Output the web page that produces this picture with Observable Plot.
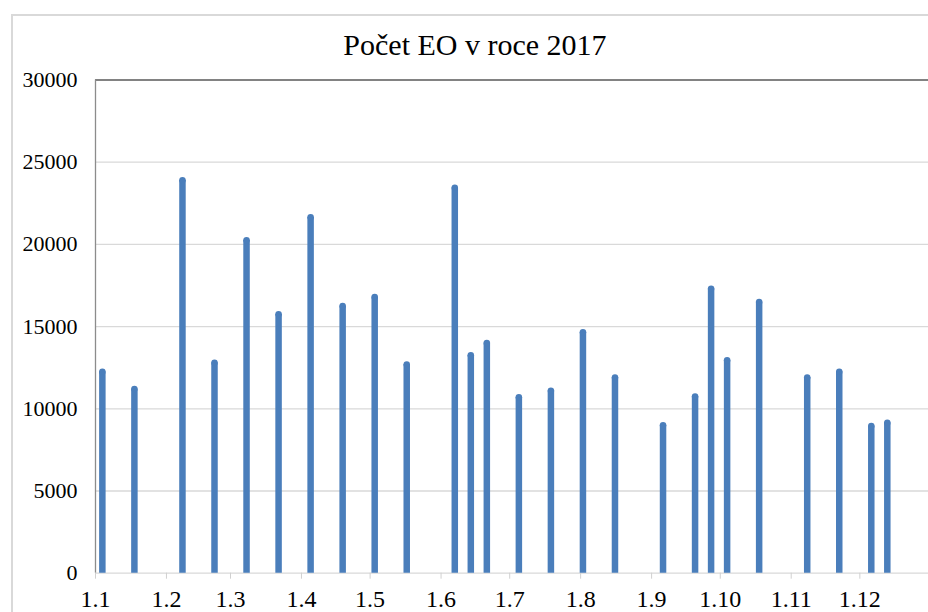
<!DOCTYPE html>
<html>
<head>
<meta charset="utf-8">
<script src="https://cdn.jsdelivr.net/npm/d3@7"></script>
<script src="https://cdn.jsdelivr.net/npm/@observablehq/plot@0.6"></script>
<style>
  html, body { margin: 0; padding: 0; background: #fff; }
  body { width: 928px; height: 612px; overflow: hidden; position: relative; }
  #frame { position: absolute; left: 11px; top: 14px; width: 1000px; height: 1000px; border: 2px solid #d9d9d9; box-sizing: border-box; }
  #title { position: relative; box-sizing: border-box; width: 928px; height: 62px; padding-top: 30px; padding-left: 22px; text-align: center; line-height: 30px; color: #000; }
  #chart { position: relative; }
</style>
</head>
<body>
<div id="frame"></div>
<div id="title">Počet EO v roce 2017</div>
<div id="chart"></div>
<script>
// Dates of the readings (2017) and the number of EO
const dates = [
  "2017-01-04", "2017-01-18", "2017-02-08", "2017-02-22", "2017-03-08", "2017-03-22",
  "2017-04-05", "2017-04-19", "2017-05-03", "2017-05-17", "2017-06-07", "2017-06-14",
  "2017-06-21", "2017-07-05", "2017-07-19", "2017-08-02", "2017-08-16", "2017-09-06",
  "2017-09-20", "2017-09-27", "2017-10-04", "2017-10-18", "2017-11-08", "2017-11-22",
  "2017-12-06", "2017-12-13"
];
const values = [
  12250, 11200, 23900, 12800, 20250, 15750,
  21650, 16250, 16800, 12700, 23450, 13250,
  14000, 10700, 11100, 14650, 11900, 9000,
  10750, 17300, 12950, 16500, 11900, 12250,
  8950, 9150
];
// Axis ticks
const monthTicks = [
  "2017-01-01", "2017-02-01", "2017-03-01", "2017-04-01", "2017-05-01", "2017-06-01",
  "2017-07-01", "2017-08-01", "2017-09-01", "2017-10-01", "2017-11-01", "2017-12-01"
];
const tickLabels = ["1.1", "1.2", "1.3", "1.4", "1.5", "1.6", "1.7", "1.8", "1.9", "1.10", "1.11", "1.12"];
const yTicks = [0, 5000, 10000, 15000, 20000, 25000, 30000];

// Pick an installed serif face (Times-like) and size the texts for it
function hasFont(name) {
  const ctx = document.createElement("canvas").getContext("2d");
  const s = "Počet EO 30000 1.12 mmwwii";
  ctx.font = "40px monospace";
  const w0 = ctx.measureText(s).width;
  ctx.font = `40px "${name}", monospace`;
  const w1 = ctx.measureText(s).width;
  ctx.font = "40px sans-serif";
  const w2 = ctx.measureText(s).width;
  ctx.font = `40px "${name}", sans-serif`;
  const w3 = ctx.measureText(s).width;
  return w0 !== w1 || w2 !== w3;
}
let family = "'Liberation Serif', 'Times New Roman', serif", k = 1;
if (hasFont("Liberation Serif")) { family = "'Liberation Serif'"; k = 1; }
else if (hasFont("Tinos")) { family = "Tinos"; k = 1; }
else if (hasFont("DejaVu Serif Condensed")) { family = "'DejaVu Serif Condensed'"; k = 0.88; }
else if (hasFont("DejaVu Serif")) { family = "'DejaVu Serif'"; k = 0.84; }

const title = document.getElementById("title");
title.style.fontFamily = family;
title.style.fontSize = (30 * k) + "px";

const parse = s => new Date(s + "T00:00:00Z");
const data = dates.map((d, i) => ({date: parse(d), value: values[i]}));
const xTicks = monthTicks.map(parse);
const labelMap = new Map(xTicks.map((d, i) => [+d, tickLabels[i]]));
const xStart = parse("2017-01-01");
const xEnd = parse("2017-12-31");

const chart = Plot.plot({
  width: 928,
  height: 550,
  marginTop: 17.5,
  marginBottom: 39.3,
  marginLeft: 95,
  marginRight: 0,
  style: {background: "transparent", fontFamily: family, color: "#000", overflow: "visible"},
  x: {type: "utc", domain: [xStart, xEnd], label: null},
  y: {domain: [0, 30000], label: null},
  marks: [
    Plot.ruleY(yTicks.filter(v => v > 0 && v < 30000), {stroke: "#d9d9d9", strokeWidth: 1.3}),
    Plot.ruleY([0], {stroke: "#d9d9d9", strokeWidth: 1.3}),
    Plot.ruleY([30000], {stroke: "#595959", strokeWidth: 1.5}),
    Plot.ruleX([xStart], {stroke: "#8c8c8c", strokeWidth: 1.3}),
    Plot.axisY({ticks: yTicks, tickSize: 0, tickPadding: 18, tickFormat: d3.format("d"), fontSize: 22 * k, label: null, fill: "#000"}),
    Plot.axisX({ticks: xTicks, tickFormat: d => labelMap.get(+d), tickSize: 6, tickPadding: 11, stroke: "#d0d0d0", fill: "#000", fontSize: 24 * k, label: null}),
    Plot.ruleX(data, {x: "date", y1: 0, y2: "value", stroke: "#4a7ebb", strokeWidth: 6.5}),
    Plot.dot(data, {x: "date", y: "value", r: 3.25, fill: "#4a7ebb", stroke: null})
  ]
});
document.getElementById("chart").appendChild(chart);
</script>
</body>
</html>
